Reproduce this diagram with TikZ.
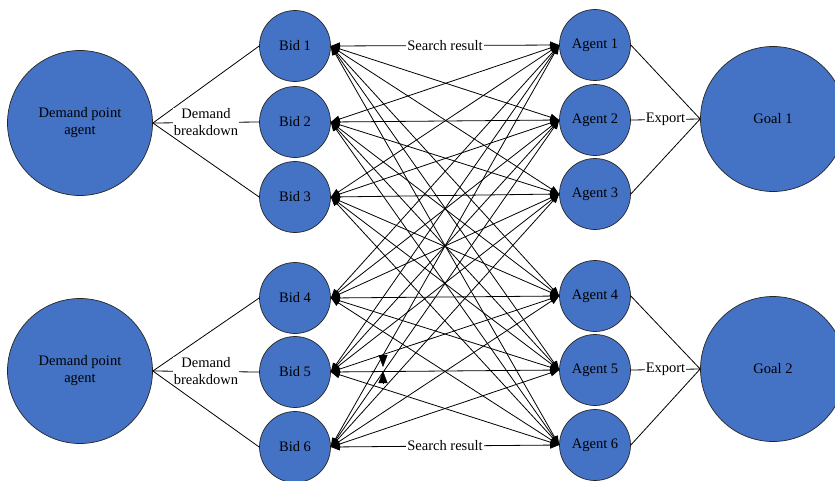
\documentclass[tikz,border=0pt]{standalone}
\usepackage{fontspec}
\setmainfont{Liberation Serif}
\usetikzlibrary{arrows.meta,calc}

\definecolor{agentblue}{HTML}{4472C4}

\begin{document}
\begin{tikzpicture}[x=1pt,y=-1pt,font=\fontsize{14.5}{17}\selectfont]
    \useasboundingbox (0,0) rectangle (835,480);

    \begin{scope}[every node/.style={circle,draw=black!85,line width=0.7pt,
                  fill=agentblue,inner sep=0pt,align=center}]
        \node[minimum size=145pt] (D1) at (80,123) {Demand point\\agent};
        \node[minimum size=145pt] (D2) at (80,371) {Demand point\\agent};
        \node[minimum size=71pt] (B1) at (295,46)  {Bid 1};
        \node[minimum size=71pt] (B2) at (295,122) {Bid 2};
        \node[minimum size=71pt] (B3) at (295,197) {Bid 3};
        \node[minimum size=71pt] (B4) at (295,298) {Bid 4};
        \node[minimum size=71pt] (B5) at (295,372) {Bid 5};
        \node[minimum size=71pt] (B6) at (295,447) {Bid 6};
        \node[minimum size=71pt] (A1) at (595,45)  {Agent 1};
        \node[minimum size=71pt] (A2) at (595,120) {Agent 2};
        \node[minimum size=71pt] (A3) at (595,194) {Agent 3};
        \node[minimum size=71pt] (A4) at (595,296) {Agent 4};
        \node[minimum size=71pt] (A5) at (595,370) {Agent 5};
        \node[minimum size=71pt] (A6) at (595,445) {Agent 6};
        \node[minimum size=145pt] (G1) at (773,119) {Goal 1};
        \node[minimum size=145pt] (G2) at (773,369) {Goal 2};
    \end{scope}

    % demand breakdown into bids, export of agents to goals
    \begin{scope}[every node/.style={fill=white,inner sep=1pt,align=center},
                  every edge/.style={draw=black,line width=0.8pt}]
        \path (D1.east) edge (B1.west);
        \path (D1.east) edge node {Demand\\breakdown} (B2.west);
        \path (D1.east) edge (B3.west);
        \path (D2.east) edge (B4.west);
        \path (D2.east) edge node {Demand\\breakdown} (B5.west);
        \path (D2.east) edge (B6.west);
        \path (A1.east) edge (G1.west);
        \path (A2.east) edge node {Export} (G1.west);
        \path (A3.east) edge (G1.west);
        \path (A4.east) edge (G2.west);
        \path (A5.east) edge node {Export} (G2.west);
        \path (A6.east) edge (G2.west);
    \end{scope}

    % every bid talks to every agent
    \begin{scope}[>={Triangle[length=9pt,width=7pt]},
                  every edge/.style={draw=black,line width=0.8pt,<->}]
        \foreach \b in {1,...,6}
            \foreach \a in {1,...,6}
                \path (B\b.east) edge (A\a.west);
    \end{scope}

    \node[fill=white,inner sep=1pt] (SR1) at ($(B1.east)!0.5!(A1.west)$) {Search result};
    \node[fill=white,inner sep=1pt] (SR6) at ($(B6.east)!0.5!(A6.west)$) {Search result};

    % stray tips between Bid 5 and Agent 5
    \coordinate (s1) at (383,354);
    \coordinate (s2) at (383,367);
    \coordinate (s3) at (383,383);
    \coordinate (s4) at (383,371);
    \path [-{Triangle[length=12pt,width=9pt]}] (s1) edge (s2);
    \path [-{Triangle[length=12pt,width=9pt]}] (s3) edge (s4);
\end{tikzpicture}
\end{document}
